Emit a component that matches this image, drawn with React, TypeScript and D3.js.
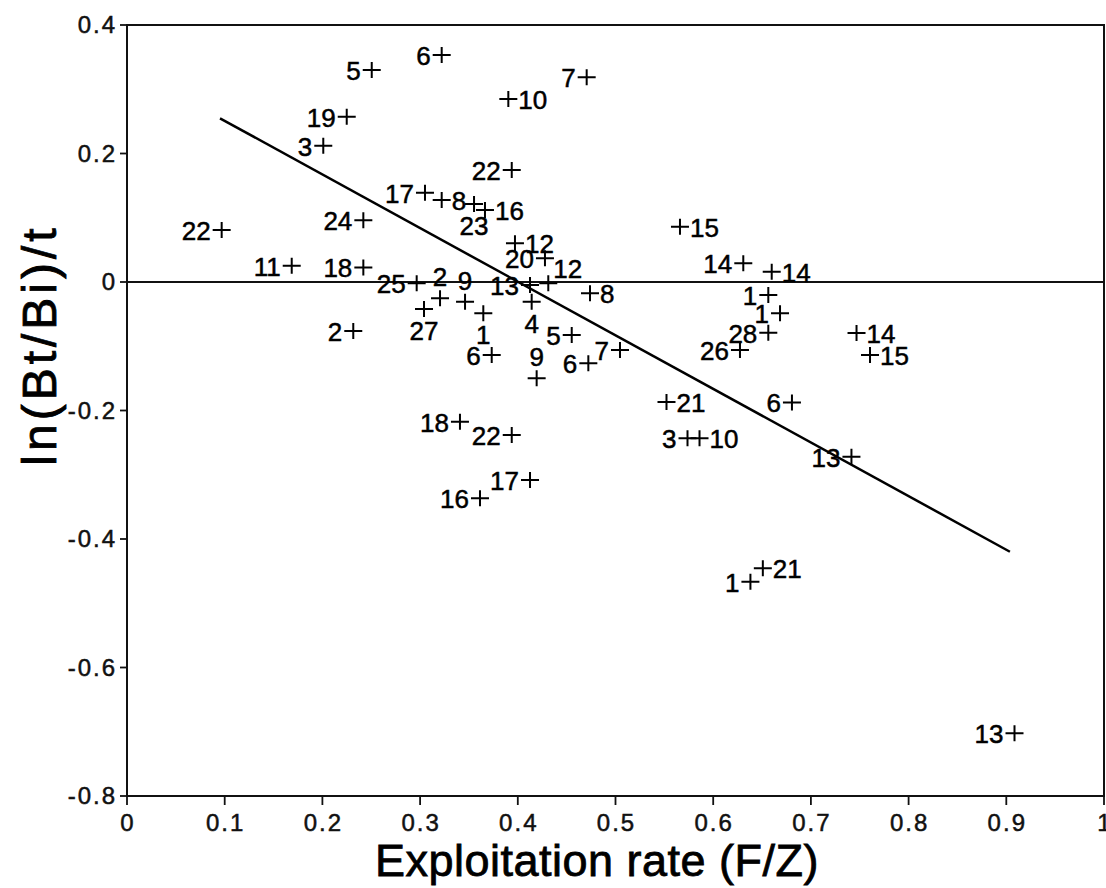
import React from "react";
import * as d3 from "d3";

// point values
const ptX = [
  0.2505, 0.2249, 0.2009, 0.0969, 0.2419, 0.1686, 0.2419, 0.3221, 0.3903, 0.4705,
  0.3938, 0.305, 0.3221, 0.3552, 0.3664, 0.566, 0.3971, 0.4278, 0.4312, 0.2965,
  0.3204, 0.346, 0.304, 0.3647, 0.4125, 0.4142, 0.4739, 0.4552, 0.3733, 0.4193,
  0.4722, 0.5046, 0.2316, 0.3408, 0.3938, 0.4125, 0.3613, 0.5522, 0.5737, 0.586,
  0.6308, 0.6599, 0.6564, 0.6684, 0.6564, 0.6274, 0.6806, 0.7467, 0.7605, 0.7415,
  0.6381, 0.6508, 0.9084,
];
const ptY = [
  0.33, 0.2573, 0.2121, 0.0809, 0.096, 0.0254, 0.0226, 0.3533, 0.2848, 0.3186,
  0.1743, 0.139, 0.1276, 0.1214, 0.1121, 0.0861, 0.0602, 0.0369, -0.002, -0.002,
  -0.0254, -0.0307, -0.042, -0.0487, -0.0047, -0.0307, -0.0176, -0.0825, -0.1136, -0.1499,
  -0.1265, -0.1058, -0.0763, -0.2174, -0.2381, -0.3082, -0.3367, -0.1868, -0.2433, -0.2433,
  0.0291, 0.016, -0.0202, -0.0487, -0.0789, -0.1058, -0.1875, -0.0794, -0.1136, -0.2719,
  -0.4665, -0.4456, -0.7024,
];
const ptLabel = [
  "5", "19", "3", "22", "24", "11", "18", "6", "10", "7",
  "22", "17", "8", "23", "16", "15", "12", "20", "12", "25",
  "2", "9", "27", "1", "13", "4", "8", "5", "6", "9",
  "6", "7", "2", "18", "22", "17", "16", "21", "3", "10",
  "14", "14", "1", "1", "28", "26", "6", "14", "15", "13",
  "1", "21", "13",
];
// where the label sits relative to the cross: L left, R right, A above, B below, AR above-right
const ptPos = [
  "L", "L", "L", "L", "L", "L", "L", "L", "R", "L",
  "L", "L", "R", "B", "R", "R", "R", "L", "AR", "L",
  "A", "A", "B", "B", "L", "B", "R", "L", "L", "A",
  "L", "L", "L", "L", "L", "L", "L", "R", "L", "R",
  "L", "R", "L", "L", "L", "L", "L", "R", "R", "L",
  "L", "R", "L",
];

// fitted line end points
const fitX = [0.0952, 0.9037];
const fitY = [0.2548, -0.4198];

const xTicks = [0, 0.1, 0.2, 0.3, 0.4, 0.5, 0.6, 0.7, 0.8, 0.9, 1];
const yTicks = [0.4, 0.2, 0, -0.2, -0.4, -0.6, -0.8];

const width = 1106;
const height = 888;
const left = 127;
const right = 1104;
const top = 25;
const bottom = 796;

const font = "'Liberation Sans', Arial, Helvetica, sans-serif";

function fmt(v: number) {
  return String(Math.round(v * 10) / 10);
}

export default function App() {
  const x = d3.scaleLinear().domain([0, 1]).range([left, right]);
  const y = d3.scaleLinear().domain([-0.8, 0.4]).range([bottom, top]);

  const line = d3
    .line<number>()
    .x((d, i) => x(fitX[i]))
    .y((d, i) => y(fitY[i]));

  const labelAttrs = (pos: string, px: number, py: number) => {
    if (pos === "R") return { x: px + 10, y: py + 10, textAnchor: "start" };
    if (pos === "A") return { x: px, y: py - 12, textAnchor: "middle" };
    if (pos === "B") return { x: px, y: py + 31, textAnchor: "middle" };
    if (pos === "AR") return { x: px + 5, y: py - 5, textAnchor: "start" };
    return { x: px - 11, y: py + 10, textAnchor: "end" };
  };

  return (
    <svg
      width={width}
      height={height}
      style={{ position: "absolute", left: 0, top: 0, background: "#fff" }}
      fontFamily={font}
    >
      <rect x={0} y={0} width={width} height={height} fill="#fff" />

      {/* zero line */}
      <line x1={left} x2={right} y1={y(0)} y2={y(0)} stroke="#111" strokeWidth={2} />

      {/* fitted line */}
      <path d={line(fitX) ?? ""} fill="none" stroke="#000" strokeWidth={2.5} />

      {/* frame */}
      <rect
        x={left}
        y={top}
        width={right - left}
        height={bottom - top}
        fill="none"
        stroke="#111"
        strokeWidth={2}
      />

      {/* y axis */}
      <g>
        {yTicks.map((t) => (
          <g key={t}>
            <line x1={left - 7} x2={left} y1={y(t)} y2={y(t)} stroke="#111" strokeWidth={1.8} />
            <text
              x={left - 10}
              y={y(t) + 8}
              textAnchor="end"
              fontSize={24}
              letterSpacing={2}
              fill="#111"
              stroke="#111"
              strokeWidth={0.5}
            >
              {fmt(t)}
            </text>
          </g>
        ))}
      </g>

      {/* x axis */}
      <g>
        {xTicks.map((t) => (
          <g key={t}>
            <line x1={x(t)} x2={x(t)} y1={bottom} y2={bottom + 9} stroke="#111" strokeWidth={1.8} />
            <text
              x={x(t) + 1}
              y={bottom + 35}
              textAnchor="middle"
              fontSize={24}
              letterSpacing={2}
              fill="#111"
              stroke="#111"
              strokeWidth={0.5}
            >
              {fmt(t)}
            </text>
          </g>
        ))}
      </g>

      {/* points */}
      <g>
        {ptX.map((vx, i) => {
          const px = x(vx);
          const py = y(ptY[i]);
          const la = labelAttrs(ptPos[i], px, py);
          return (
            <g key={i}>
              <path
                d={`M${px - 9},${py}H${px + 9}M${px},${py - 8}V${py + 8}`}
                stroke="#000"
                strokeWidth={2}
              />
              <text
                x={la.x}
                y={la.y}
                textAnchor={la.textAnchor as any}
                fontSize={26}
                fill="#000"
                stroke="#000"
                strokeWidth={0.5}
              >
                {ptLabel[i]}
              </text>
            </g>
          );
        })}
      </g>

      {/* axis titles */}
      <text
        x={597}
        y={876}
        textAnchor="middle"
        fontSize={45}
        letterSpacing={0.5}
        fill="#000"
        stroke="#000"
        strokeWidth={0.8}
      >
        Exploitation rate (F/Z)
      </text>
      <text
        transform={`translate(56, 345) rotate(-90)`}
        textAnchor="middle"
        fontSize={48}
        letterSpacing={4}
        fill="#000"
        stroke="#000"
        strokeWidth={0.8}
      >
        ln(Bt/Bi)/t
      </text>
    </svg>
  );
}
